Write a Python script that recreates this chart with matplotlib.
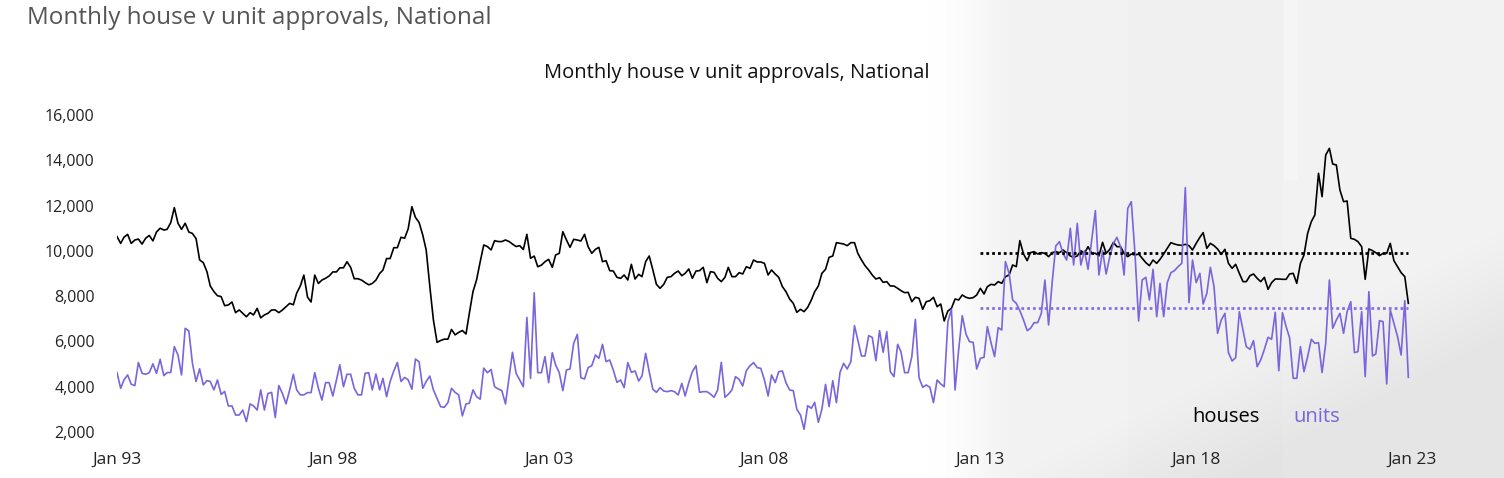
import numpy as np
import pandas as pd
import matplotlib
matplotlib.use("Agg")
import matplotlib.pyplot as plt
import matplotlib.dates as mdates

plt.rcParams['font.family'] = ['Open Sans', 'DejaVu Sans']

# monthly approvals, Jan 1993 - Dec 2022
houses = [
    10630, 10330, 10600, 10730, 10330, 10480, 10520, 10300, 10560, 10680, 10440, 10830,  # 1993
    11000, 10920, 10950, 11250, 11910, 11220, 10950, 11220, 10830, 10770, 10540, 9600,   # 1994
    9480, 9080, 8450, 8200, 8020, 7980, 7580, 7610, 7740, 7270, 7390, 7240,              # 1995
    7090, 7270, 7170, 7460, 7040, 7170, 7240, 7390, 7390, 7270, 7390, 7530,              # 1996
    7680, 7620, 8130, 8450, 8930, 7960, 7740, 8930, 8560, 8710, 8790, 8890,              # 1997
    9070, 9070, 9250, 9250, 9520, 9270, 8770, 8770, 8710, 8600, 8500, 8560,              # 1998
    8710, 9000, 9150, 9660, 9660, 10140, 10140, 10600, 10560, 10980, 11950, 11480,       # 1999
    11250, 10700, 10040, 8420, 6950, 5960, 6040, 6100, 6100, 6530, 6290, 6400,           # 2000
    6480, 6330, 7240, 8200, 8710, 9520, 10260, 10190, 10040, 10450, 10410, 10410,        # 2001
    10480, 10410, 10300, 10190, 10230, 10060, 10730, 9670, 9770, 9300, 9370, 9520,       # 2002
    9626, 9272, 9817, 9891, 10847, 10479, 10156, 10509, 10479, 10435, 10730, 10185,      # 2003
    9891, 10067, 10156, 9523, 9567, 9125, 9110, 8831, 8787, 8934, 8713, 9405,            # 2004
    8757, 8963, 8860, 9523, 9773, 9155, 8522, 8345, 8522, 8831, 8860, 9007,              # 2005
    9110, 8904, 9007, 9199, 8787, 9110, 9125, 9272, 8595, 9081, 9052, 8787,              # 2006
    8640, 8831, 9272, 8860, 8860, 9037, 8978, 9302, 9228, 9596, 9508, 9508,              # 2007
    9449, 8934, 9155, 8978, 8831, 8419, 8198, 7874, 7683, 7285, 7418, 7315,              # 2008
    7506, 7830, 8198, 8448, 9007, 9184, 9714, 9773, 10362, 10332, 10303, 10229,          # 2009
    10362, 10362, 9891, 9596, 9346, 9155, 8934, 8757, 8816, 8610, 8640, 8448,            # 2010
    8448, 8345, 8242, 8154, 8168, 7756, 7948, 7904, 7418, 7756, 7800, 7948,              # 2011
    7535, 7653, 6902, 7344, 7462, 7874, 7830, 8051, 7948, 7904, 7933, 8051,              # 2012
    8345, 8095, 8419, 8522, 8492, 8640, 8566, 8860, 8934, 9376, 9302, 10450,             # 2013
    9861, 9567, 9920, 9964, 9861, 9920, 9891, 9744, 9920, 9964, 9920, 10038,             # 2014
    9920, 9773, 9714, 9773, 10009, 9891, 10185, 9891, 9891, 9773, 10377, 9891,           # 2015
    10067, 10377, 10185, 10185, 9891, 9744, 9861, 9817, 9861, 9670, 9479, 9346,          # 2016
    9596, 9449, 9626, 9861, 10112, 10362, 10303, 10259, 10244, 10288, 10229, 10038,      # 2017
    10332, 10597, 10803, 10112, 10332, 10229, 10082, 9847, 10067, 9449, 9228, 9405,      # 2018
    9008, 8640, 8640, 8905, 8978, 8787, 8640, 8831, 8301, 8596, 8757, 8757,              # 2019
    8743, 8743, 8978, 9008, 8566, 9449, 9817, 10774, 11289, 11584, 13424, 12393,         # 2020
    14233, 14528, 13836, 13792, 12688, 12173, 12202, 10553, 10509, 10406, 10185, 8743,   # 2021
    10082, 10009, 9920, 9788, 9891, 9891, 10332, 9567, 9302, 9037, 8860, 7683,           # 2022
]

units = [
    4620, 3930, 4300, 4520, 4110, 4050, 5070, 4590, 4550, 4620, 5010, 4590,   # 1993
    5210, 4490, 4620, 4630, 5770, 5400, 4520, 6580, 6460, 5040, 4230, 4790,   # 1994
    4080, 4270, 4230, 3860, 4300, 3660, 3790, 3150, 3150, 2750, 2750, 2970,   # 1995
    2460, 3240, 3150, 2970, 3860, 2970, 3700, 3750, 2640, 4050, 3700, 3240,   # 1996
    3860, 4550, 3860, 3640, 3640, 3740, 3740, 4620, 3930, 3410, 4180, 4180,   # 1997
    3590, 4300, 4970, 4000, 4550, 4550, 3930, 3640, 3640, 4590, 4620, 3860,   # 1998
    4560, 3860, 4370, 3560, 4230, 4700, 5070, 4230, 4410, 4300, 3890, 5220,   # 1999
    5100, 3930, 4230, 4470, 3860, 3490, 3120, 3090, 3300, 3930, 3750, 3640,   # 2000
    2710, 3240, 3270, 3860, 3560, 3450, 4820, 4620, 4760, 4000, 3900, 3830,   # 2001
    3240, 4450, 5520, 4590, 4300, 4000, 7060, 4370, 8150, 4620, 4620, 5330,   # 2002
    4179, 5504, 4959, 4621, 3826, 4739, 4783, 5916, 6314, 4400, 4341, 4842,   # 2003
    4930, 5401, 5254, 5872, 5107, 5181, 4739, 4194, 4297, 3958, 5063, 4636,   # 2004
    4695, 4253, 4474, 5475, 4665, 3885, 3753, 3958, 3811, 3782, 3826, 3782,   # 2005
    3635, 4150, 3591, 4179, 4665, 4930, 3753, 3782, 3782, 3679, 3532, 3856,   # 2006
    5077, 3532, 3664, 3856, 4444, 4326, 4032, 4709, 4930, 5063, 4842, 4812,   # 2007
    4297, 3591, 4518, 4179, 4665, 4695, 4179, 3856, 3826, 3002, 2751, 2119,   # 2008
    3164, 3046, 3311, 2428, 3002, 4106, 3120, 4268, 3296, 4621, 5033, 4783,   # 2009
    5107, 6696, 6063, 5357, 5357, 6255, 6181, 5151, 6476, 5519, 6431, 4665,   # 2010
    4444, 5872, 5548, 4621, 4621, 5327, 6976, 4400, 3973, 4076, 3973, 3296,   # 2011
    4297, 4120, 4003, 6873, 7418, 3856, 5622, 7138, 6328, 5990, 5960, 4783,   # 2012
    5254, 5298, 6652, 5946, 5328, 6608, 6505, 9523, 9008, 7830, 7683, 7359,   # 2013
    6947, 6476, 6579, 6829, 6829, 7241, 8713, 6726, 8640, 10215, 10406, 9891, # 2014
    9596, 10995, 9376, 11216, 9376, 10009, 9184, 10480, 11775, 8934, 10009, 8978,  # 2015
    9744, 10333, 10597, 10185, 8934, 11878, 12173, 9891, 6903, 8713, 8831, 7830,   # 2016
    9184, 7094, 8566, 7094, 8596, 9037, 9125, 9302, 9449, 12791, 7712, 9596,       # 2017
    8596, 9008, 7654, 8124, 9272, 8419, 6358, 6947, 7241, 5505, 5136, 5284,   # 2018
    7315, 6505, 5770, 5652, 6034, 4886, 5180, 5652, 6182, 6093, 7285, 4709,   # 2019
    7271, 6652, 6167, 4371, 4371, 5770, 4665, 5328, 6093, 5917, 5946, 4621,   # 2020
    5917, 8713, 6579, 6947, 7241, 6358, 7315, 7756, 5505, 5549, 7315, 4444,   # 2021
    8198, 5357, 5446, 6917, 6873, 4121, 7389, 6799, 6211, 5402, 7800, 4415,   # 2022
]

# ten-year averages shown as dotted lines
houses_avg = 9890
units_avg = 7460
avg_start = "2013-01-01"

tick_years = [1993, 1998, 2003, 2008, 2013, 2018, 2023]

dates = pd.date_range("1993-01-01", periods=len(houses), freq="MS")

W, H = 1504, 478
fig = plt.figure(figsize=(W / 100, H / 100), dpi=100)

# light grey decorative backdrop on the right
xx, yy = np.meshgrid(np.arange(W), np.arange(H))
t = np.clip((xx - 930) / 90.0, 0, 1)
g = 1.0 - 0.05 * (t * t * (3 - 2 * t))
g -= 0.006 * ((xx > 1127) & (xx < 1283))
g = np.where((xx > 1283) & (xx < 1298) & (yy < 180), 0.962, g)
shade = np.clip((yy - (480 - (xx - 1000) * 0.5)) / 110.0, 0, 1)
g -= 0.05 * shade
bg = fig.add_axes([0, 0, 1, 1])
bg.imshow(np.dstack([g, g, g]), aspect="auto", extent=[0, 1, 0, 1], vmin=0, vmax=1)
bg.axis("off")

ax = fig.add_axes([117 / W, (H - 432) / H, 1295 / W, 317 / H])
ax.patch.set_alpha(0)

purple = "#7b64dc"
lh, = ax.plot(dates, houses, color="black", lw=1.2)
lu, = ax.plot(dates, units, color=purple, lw=1.2)

avg_dates = [pd.Timestamp(avg_start), dates[-1]]
ax.plot(avg_dates, [houses_avg, houses_avg], color="black", lw=2.0, ls=(0, (1, 1.1)))
ax.plot(avg_dates, [units_avg, units_avg], color="#8a6fe3", lw=2.0, ls=(0, (1, 1.1)))

ax.set_ylim(2000, 16000)
ax.set_xlim(pd.Timestamp("1993-01-01"), pd.Timestamp("2023-01-01"))
ax.set_yticks(range(2000, 16001, 2000))
ax.yaxis.set_major_formatter(matplotlib.ticker.FuncFormatter(lambda v, p: f"{int(v):,}"))
ax.set_xticks([pd.Timestamp(f"{y}-01-01") for y in tick_years])
ax.xaxis.set_major_formatter(mdates.DateFormatter("%b %y"))
ax.tick_params(length=0, labelcolor="#222222")
ax.tick_params(axis="x", pad=14, labelsize=12.5)
ax.tick_params(axis="y", pad=16, labelsize=11.5)
for s in ax.spines.values():
    s.set_visible(False)

leg = ax.legend(handles=[lh, lu], labels=["houses", "units"], loc="center",
                bbox_to_anchor=(1266 / W, 1 - 417 / H), bbox_transform=fig.transFigure,
                ncol=2, frameon=False, handlelength=0, handletextpad=0,
                columnspacing=1.7, fontsize=14.5, labelcolor="linecolor")
for h in leg.legend_handles:
    h.set_visible(False)

fig.text(27 / W, 1 - 18 / H, "Monthly house v unit approvals, National",
         fontsize=17.5, color="#555555", va="center", ha="left")
fig.text(737 / W, 1 - 73 / H, "Monthly house v unit approvals, National",
         fontsize=14.5, color="#111111", va="center", ha="center")

fig.savefig("out.png", dpi=100)
